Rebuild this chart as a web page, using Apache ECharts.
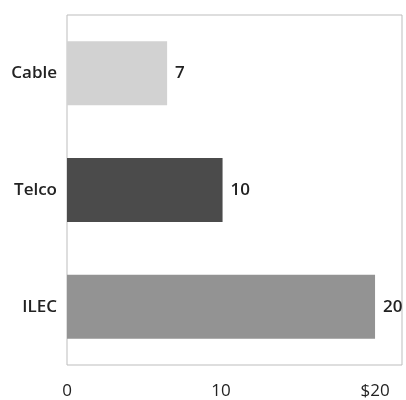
<!DOCTYPE html>
<html>
<head>
<meta charset="utf-8">
<style>html,body{margin:0;padding:0;background:#fff}#c{width:406px;height:400px}</style>
<script src="https://cdn.jsdelivr.net/npm/echarts@6/dist/echarts.min.js"></script>
</head>
<body>
<div id="c"></div>
<script>
var categories = ["Cable", "Telco", "ILEC"];
var values = [6.5, 10.1, 20];
var valueLabels = ["7", "10", "20"];
var barColors = ["#d2d2d2", "#4b4b4b", "#939393"];
var tickLabels = ["0", "10", "$20"];

var chart = echarts.init(document.getElementById('c'), null, {renderer: 'canvas'});
chart.setOption({
  animation: false,
  backgroundColor: '#fff',
  grid: {left: 67, right: 4, top: 15, bottom: 35, show: true, borderColor: '#bdbdbd', borderWidth: 1, backgroundColor: 'transparent'},
  xAxis: {
    type: 'value', min: 0, max: 21.75, interval: 10,
    axisLine: {show: false}, axisTick: {show: false}, splitLine: {show: false},
    axisLabel: {
      margin: 18, fontSize: 17, color: '#222', fontFamily: 'Open Sans',
      showMaxLabel: false,
      formatter: function (v) { var i = Math.round(v / 10); return tickLabels[i] !== undefined ? tickLabels[i] : ''; }
    }
  },
  yAxis: {
    type: 'category', data: categories, inverse: true,
    axisLine: {show: false}, axisTick: {show: false},
    axisLabel: {margin: 10, fontSize: 17, fontWeight: 600, color: '#222', fontFamily: 'Open Sans'}
  },
  series: [{
    type: 'bar', barWidth: 64,
    data: values.map(function (v, i) { return {value: v, itemStyle: {color: barColors[i]}}; }),
    label: {
      show: true, position: 'right', distance: 8, fontSize: 17, fontWeight: 600, color: '#222', fontFamily: 'Open Sans',
      formatter: function (p) { return valueLabels[p.dataIndex]; }
    }
  }]
});
</script>
</body>
</html>
